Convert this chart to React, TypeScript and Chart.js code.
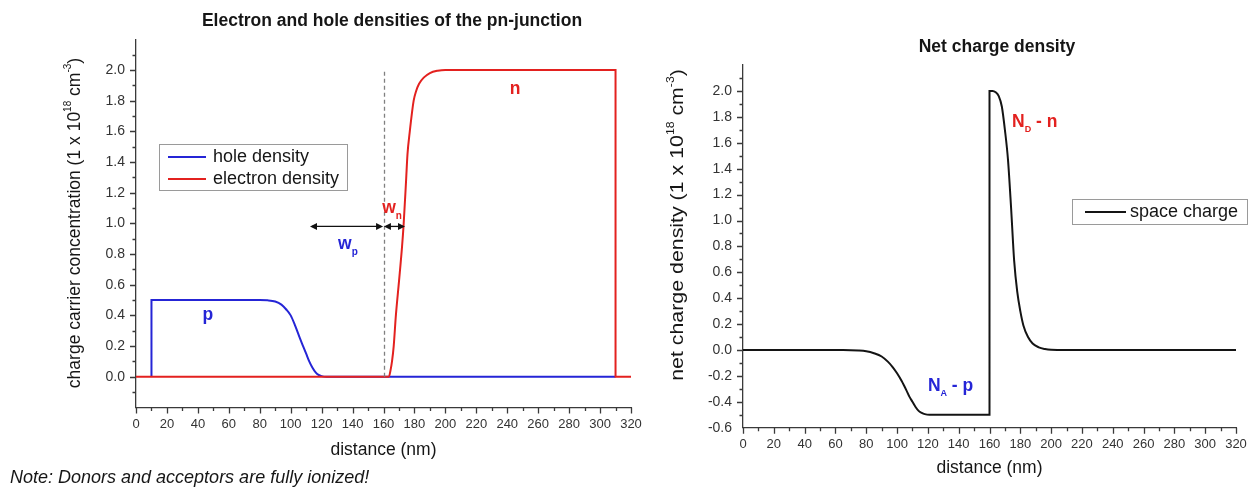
import React, { useEffect, useRef } from "react";
import { Chart, registerables } from "chart.js";

Chart.register(...registerables);

const FONT = '"Liberation Sans", Arial, Helvetica, sans-serif';
const BLUE = "#2525d6";
const RED = "#e3211f";
const BLACK = "#141414";
const AXIS = "#3a3a3a";
const TICK_TEXT = "#333333";
const TEXT = "#161616";

// ---------- data (distance in nm, densities in 1e18 cm^-3) ----------
const holeDistance = [10, 10, 80, 85, 90, 94, 97, 100, 103, 106, 108, 110, 112, 114, 116, 118, 120, 123, 310];
const holeDensity = [0, 0.5, 0.5, 0.498, 0.49, 0.47, 0.44, 0.4, 0.33, 0.25, 0.2, 0.15, 0.1, 0.06, 0.03, 0.012, 0.004, 0, 0];

const electronDistance = [0, 163.5, 164.5, 165.5, 166.6, 168, 170, 172, 173, 174.6, 175.5, 177, 179.5, 181, 183, 186, 190, 195, 200, 310, 310, 320];
const electronDensity = [0, 0, 0.04, 0.1, 0.2, 0.4, 0.62, 0.85, 0.99, 1.28, 1.45, 1.6, 1.8, 1.86, 1.91, 1.95, 1.98, 1.995, 2.0, 2.0, 0, 0];

const chargeDistance = [0, 65, 75, 80, 85, 90, 94, 97, 100, 103, 106, 108, 110, 112, 114, 116, 118, 121, 160, 160, 162, 164, 166, 168, 170, 172, 174, 176, 178, 180, 182, 185, 188, 192, 196, 200, 204, 320];
const spaceCharge = [0, 0, -0.004, -0.01, -0.025, -0.05, -0.09, -0.13, -0.18, -0.24, -0.31, -0.36, -0.4, -0.44, -0.47, -0.485, -0.495, -0.5, -0.5, 2.0, 2.0, 1.99, 1.96, 1.88, 1.7, 1.47, 1.1, 0.69, 0.45, 0.3, 0.19, 0.1, 0.05, 0.02, 0.007, 0.001, 0, 0];

// axis ranges / tick labels
const xMin = 0;
const xMax = 320;
const xStep = 10; // labels every 20
const leftYRange = [-0.2, 2.2];
const leftYLabelRange = [0, 2.0];
const rightYRange = [-0.6, 2.2];
const rightYLabelRange = [-0.6, 2.0];

// annotation anchors (data coords)
const junctionX = 160;
const wpArrow = [112.5, 159.7];
const wnArrow = [160.3, 173.9];
const arrowLevel = 0.98;

const zip = (xs: number[], ys: number[]) => xs.map((x, i) => ({ x, y: ys[i] }));

type Part = { text: string; size?: number; dy?: number; bold?: boolean };

function drawRich(ctx: CanvasRenderingContext2D, parts: Part[], x: number, y: number, align: "left" | "center", color: string, baseSize: number, bold: boolean, italic = false) {
  const fonts = parts.map((p) => `${italic ? "italic " : ""}${(p.bold ?? bold) ? "bold " : ""}${p.size ?? baseSize}px ${FONT}`);
  let total = 0;
  const widths = parts.map((p, i) => {
    ctx.font = fonts[i];
    const w = ctx.measureText(p.text).width;
    total += w;
    return w;
  });
  let cx = align === "center" ? x - total / 2 : x;
  ctx.fillStyle = color;
  ctx.textBaseline = "middle";
  ctx.textAlign = "left";
  parts.forEach((p, i) => {
    ctx.font = fonts[i];
    ctx.fillText(p.text, cx, y + (p.dy ?? 0));
    cx += widths[i];
  });
}

function drawArrow(ctx: CanvasRenderingContext2D, x1: number, x2: number, y: number) {
  const h = 7;
  const w = 3.5;
  ctx.beginPath();
  ctx.moveTo(x1 + 2, y);
  ctx.lineTo(x2 - 2, y);
  ctx.stroke();
  ctx.beginPath();
  ctx.moveTo(x1, y);
  ctx.lineTo(x1 + h, y - w);
  ctx.lineTo(x1 + h, y + w);
  ctx.closePath();
  ctx.fill();
  ctx.beginPath();
  ctx.moveTo(x2, y);
  ctx.lineTo(x2 - h, y - w);
  ctx.lineTo(x2 - h, y + w);
  ctx.closePath();
  ctx.fill();
}

const axisTicksPlugin = {
  id: "axisTicks",
  afterDraw(chart: any) {
    const ctx = chart.ctx as CanvasRenderingContext2D;
    const { left, bottom } = chart.chartArea;
    const xs = chart.scales.x;
    const ys = chart.scales.y;
    ctx.save();
    ctx.strokeStyle = AXIS;
    ctx.lineWidth = 1.3;
    ctx.beginPath();
    xs.ticks.forEach((t: any) => {
      const px = Math.round(xs.getPixelForValue(t.value)) + 0.5;
      const major = Math.round(t.value) % 20 === 0;
      ctx.moveTo(px, bottom);
      ctx.lineTo(px, bottom + (major ? 6 : 3.5));
    });
    ys.ticks.forEach((t: any) => {
      if (t.value <= ys.min + 1e-9 || t.value >= ys.max - 1e-9) return;
      const py = Math.round(ys.getPixelForValue(t.value)) + 0.5;
      const major = Math.round(t.value * 10) % 2 === 0;
      ctx.moveTo(left, py);
      ctx.lineTo(left - (major ? 6 : 3.5), py);
    });
    ctx.stroke();
    ctx.restore();
  },
};

function yTitleParts(main: string): Part[] {
  return [
    { text: main + " (1 x 10" },
    { text: "18", size: 10, dy: -7 },
    { text: " cm" },
    { text: "-3", size: 10, dy: -7 },
    { text: ")" },
  ];
}

function decorPlugin(cfg: {
  title: string;
  titleX: number;
  titleY: number;
  yTitle: Part[];
  yTitleX: number;
  yTitleY: number;
  yTitleStretch: number;
  legendBox: [number, number, number, number];
  legendItems: { label: string; color: string; y: number }[];
  legendLine: [number, number];
  legendTextX: number;
  extra: (chart: any, ctx: CanvasRenderingContext2D) => void;
}) {
  return {
    id: "decor",
    afterDraw(chart: any) {
      const ctx = chart.ctx as CanvasRenderingContext2D;
      ctx.save();
      // title
      drawRich(ctx, [{ text: cfg.title }], cfg.titleX, cfg.titleY, "center", TEXT, 17.5, true);
      // y title
      ctx.save();
      ctx.translate(cfg.yTitleX, cfg.yTitleY);
      ctx.rotate(-Math.PI / 2);
      ctx.scale(cfg.yTitleStretch, 1);
      drawRich(ctx, cfg.yTitle, 0, 0, "center", TEXT, 17.5, false);
      ctx.restore();
      // legend
      const [bx1, by1, bx2, by2] = cfg.legendBox;
      ctx.fillStyle = "#ffffff";
      ctx.fillRect(bx1, by1, bx2 - bx1, by2 - by1);
      ctx.strokeStyle = "#9a9a9a";
      ctx.lineWidth = 1;
      ctx.strokeRect(bx1 + 0.5, by1 + 0.5, bx2 - bx1, by2 - by1);
      cfg.legendItems.forEach((it) => {
        ctx.strokeStyle = it.color;
        ctx.lineWidth = 2;
        ctx.beginPath();
        ctx.moveTo(cfg.legendLine[0], it.y);
        ctx.lineTo(cfg.legendLine[1], it.y);
        ctx.stroke();
        drawRich(ctx, [{ text: it.label }], cfg.legendTextX, it.y, "left", TEXT, 18, false);
      });
      cfg.extra(chart, ctx);
      ctx.restore();
    },
  };
}

function makeScales(yRange: number[], yLabelRange: number[], yWidth: number, xHeight: number) {
  return {
    x: {
      type: "linear" as const,
      min: xMin,
      max: xMax,
      afterFit: (s: any) => {
        s.height = xHeight;
      },
      ticks: {
        stepSize: xStep,
        autoSkip: false,
        maxRotation: 0,
        padding: 3,
        color: TICK_TEXT,
        font: { family: FONT, size: 13 },
        callback: (v: any) => (Math.round(Number(v)) % 20 === 0 ? String(Math.round(Number(v))) : ""),
      },
      grid: { drawOnChartArea: false, tickLength: 6, tickColor: "rgba(0,0,0,0)" },
      border: { color: AXIS, width: 1.3 },
      title: {
        display: true,
        text: "distance (nm)",
        color: TEXT,
        font: { family: FONT, size: 17.5 },
        padding: { top: 0, bottom: 0 },
      },
    },
    y: {
      type: "linear" as const,
      min: yRange[0],
      max: yRange[1],
      afterFit: (s: any) => {
        s.width = yWidth;
      },
      ticks: {
        stepSize: 0.1,
        autoSkip: false,
        padding: 5,
        color: TICK_TEXT,
        font: { family: FONT, size: 14 },
        callback: (v: any) => {
          const k = Math.round(Number(v) * 10);
          return k % 2 === 0 && k >= Math.round(yLabelRange[0] * 10) && k <= Math.round(yLabelRange[1] * 10) ? (k / 10).toFixed(1) : "";
        },
      },
      grid: { drawOnChartArea: false, tickLength: 6, tickColor: "rgba(0,0,0,0)" },
      border: { color: AXIS, width: 1.3 },
    },
  };
}

function LeftChart() {
  const ref = useRef<HTMLCanvasElement>(null);
  useEffect(() => {
    if (!ref.current) return;
    const decor = decorPlugin({
      title: "Electron and hole densities of the pn-junction",
      titleX: 392,
      titleY: 21.5,
      yTitle: yTitleParts("charge carrier concentration"),
      yTitleX: 75,
      yTitleY: 223,
      yTitleStretch: 1,
      legendBox: [159, 144, 347, 190],
      legendItems: [
        { label: "hole density", color: BLUE, y: 157 },
        { label: "electron density", color: RED, y: 179 },
      ],
      legendLine: [168, 206],
      legendTextX: 213,
      extra: (chart, ctx) => {
        const xs = chart.scales.x;
        const ys = chart.scales.y;
        // junction dashed line
        ctx.save();
        ctx.strokeStyle = "#808080";
        ctx.lineWidth = 1.3;
        ctx.setLineDash([4, 3]);
        const jx = Math.round(xs.getPixelForValue(junctionX)) + 0.5;
        ctx.beginPath();
        ctx.moveTo(jx, ys.getPixelForValue(0));
        ctx.lineTo(jx, ys.getPixelForValue(2.0));
        ctx.stroke();
        ctx.restore();
        // arrows
        ctx.strokeStyle = "#111";
        ctx.fillStyle = "#111";
        ctx.lineWidth = 1.3;
        const ay = ys.getPixelForValue(arrowLevel);
        drawArrow(ctx, xs.getPixelForValue(wpArrow[0]), xs.getPixelForValue(wpArrow[1]), ay);
        drawArrow(ctx, xs.getPixelForValue(wnArrow[0]), xs.getPixelForValue(wnArrow[1]), ay);
        // labels
        drawRich(ctx, [{ text: "n" }], xs.getPixelForValue(245), ys.getPixelForValue(1.877), "center", RED, 17.5, true);
        drawRich(ctx, [{ text: "p" }], xs.getPixelForValue(46.5), ys.getPixelForValue(0.4), "center", BLUE, 17.5, true);
        drawRich(ctx, [{ text: "w" }, { text: "p", size: 10, dy: 8 }], xs.getPixelForValue(137), ys.getPixelForValue(0.866), "center", BLUE, 17.5, true);
        drawRich(ctx, [{ text: "w" }, { text: "n", size: 10, dy: 8 }], xs.getPixelForValue(165.5), ys.getPixelForValue(1.1), "center", RED, 17.5, true);
      },
    });
    const chart = new Chart(ref.current, {
      type: "line",
      data: {
        datasets: [
          { label: "hole density", data: zip(holeDistance, holeDensity), borderColor: BLUE, borderWidth: 2, pointRadius: 0, fill: false, cubicInterpolationMode: "monotone", order: 1 },
          { label: "electron density", data: zip(electronDistance, electronDensity), borderColor: RED, borderWidth: 2, pointRadius: 0, fill: false, cubicInterpolationMode: "monotone", order: 0 },
        ],
      },
      options: {
        responsive: false,
        animation: false,
        events: [],
        layout: { padding: { top: 39.3, left: 0, right: 29, bottom: 26.6 } },
        plugins: { legend: { display: false }, title: { display: false }, tooltip: { enabled: false } },
        scales: makeScales(leftYRange, leftYLabelRange, 136, 53),
      },
      plugins: [axisTicksPlugin, decor],
    });
    return () => chart.destroy();
  }, []);
  return <canvas ref={ref} width={660} height={487} style={{ position: "absolute", left: 0, top: 0, width: 660, height: 487 }} />;
}

function RightChart() {
  const ref = useRef<HTMLCanvasElement>(null);
  useEffect(() => {
    if (!ref.current) return;
    const decor = decorPlugin({
      title: "Net charge density",
      titleX: 357,
      titleY: 46.7,
      yTitle: yTitleParts("net charge density"),
      yTitleX: 38,
      yTitleY: 225,
      yTitleStretch: 1.22,
      legendBox: [432, 199, 607, 224],
      legendItems: [{ label: "space charge", color: BLACK, y: 212 }],
      legendLine: [445, 486],
      legendTextX: 490,
      extra: (chart, ctx) => {
        const xs = chart.scales.x;
        const ys = chart.scales.y;
        drawRich(ctx, [{ text: "N" }, { text: "D", size: 9, dy: 7 }, { text: " - n" }], xs.getPixelForValue(174.6), ys.getPixelForValue(1.76), "left", RED, 17.5, true);
        drawRich(ctx, [{ text: "N" }, { text: "A", size: 9, dy: 7 }, { text: " - p" }], xs.getPixelForValue(120), ys.getPixelForValue(-0.28), "left", BLUE, 17.5, true);
      },
    });
    const chart = new Chart(ref.current, {
      type: "line",
      data: {
        datasets: [
          { label: "space charge", data: zip(chargeDistance, spaceCharge), borderColor: BLACK, borderWidth: 2, pointRadius: 0, fill: false, cubicInterpolationMode: "monotone" },
        ],
      },
      options: {
        responsive: false,
        animation: false,
        events: [],
        layout: { padding: { top: 65.1, left: 0, right: 19, bottom: 8.6 } },
        plugins: { legend: { display: false }, title: { display: false }, tooltip: { enabled: false } },
        scales: makeScales(rightYRange, rightYLabelRange, 103, 50.7),
      },
      plugins: [axisTicksPlugin, decor],
    });
    return () => chart.destroy();
  }, []);
  return <canvas ref={ref} width={615} height={487} style={{ position: "absolute", left: 640, top: 0, width: 615, height: 487 }} />;
}

export default function App() {
  return (
    <div style={{ position: "fixed", left: 0, top: 0, width: 1255, height: 487, background: "#ffffff", overflow: "hidden" }}>
      <LeftChart />
      <RightChart />
      <div
        style={{
          position: "absolute",
          left: 10,
          top: 466,
          fontFamily: FONT,
          fontStyle: "italic",
          fontSize: 18,
          lineHeight: "22px",
          color: TEXT,
          whiteSpace: "nowrap",
        }}
      >
        Note: Donors and acceptors are fully ionized!
      </div>
    </div>
  );
}
